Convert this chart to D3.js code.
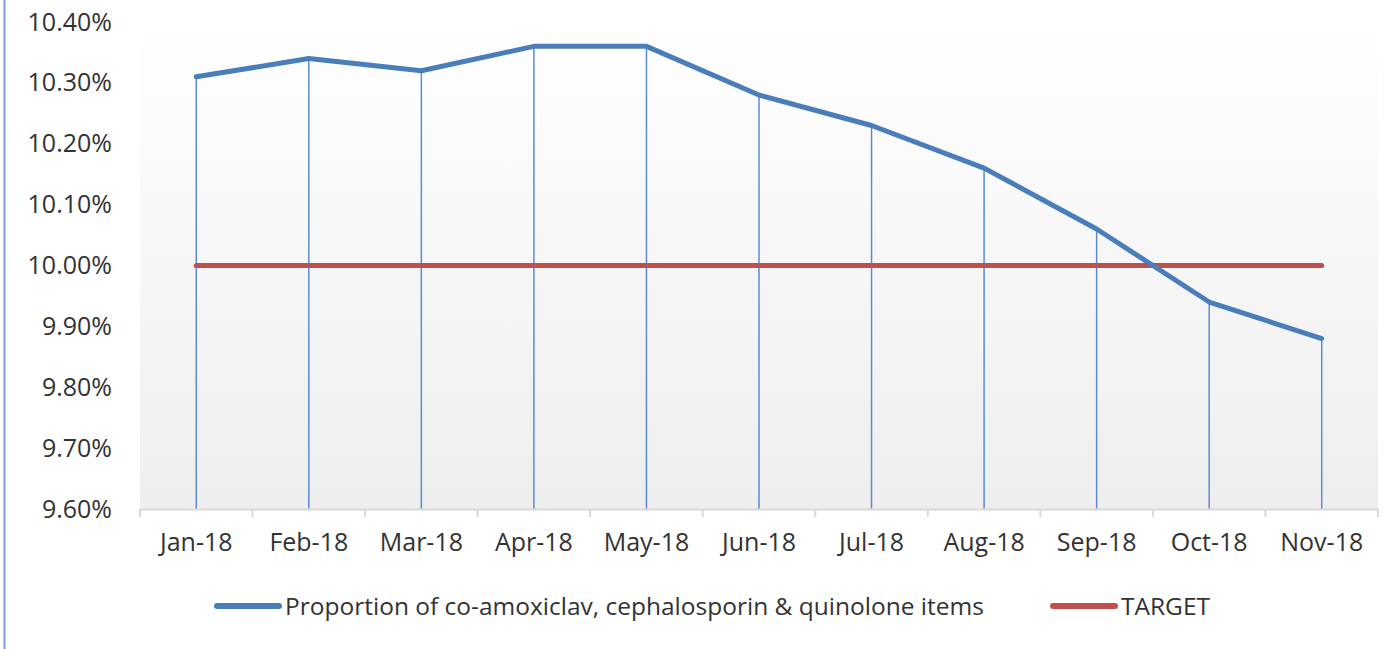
<!DOCTYPE html>
<html>
<head>
<meta charset="utf-8">
<script src="https://cdn.jsdelivr.net/npm/d3@7"></script>
<style>
  body { margin: 0; background: #fff; }
  svg { display: block; font-family: "Open Sans", sans-serif; }
</style>
</head>
<body>
<svg id="chart" width="1386" height="649"></svg>
<script>
// data
var months = ["Jan-18", "Feb-18", "Mar-18", "Apr-18", "May-18", "Jun-18",
  "Jul-18", "Aug-18", "Sep-18", "Oct-18", "Nov-18"];
var proportion = [10.31, 10.34, 10.32, 10.36, 10.36, 10.28, 10.23, 10.16, 10.06, 9.94, 9.88];
var target = [10, 10, 10, 10, 10, 10, 10, 10, 10, 10, 10];
var yTicks = [9.6, 9.7, 9.8, 9.9, 10.0, 10.1, 10.2, 10.3, 10.4];

var svg = d3.select("#chart");
var width = 1386, height = 649;

var margin = { top: 22, right: 8, bottom: 140, left: 140 };
var plotW = width - margin.left - margin.right,
  plotH = height - margin.top - margin.bottom;

var blue = "#4a7ebb", red = "#c0504d";
var font = "'Open Sans', sans-serif";

// left border of the chart frame
svg.append("line")
  .attr("x1", 4.5).attr("x2", 4.5)
  .attr("y1", 0).attr("y2", height)
  .style("stroke", "#7b9cd0")
  .style("stroke-width", 2);

var defs = svg.append("defs");
var grad = defs.append("linearGradient")
  .attr("id", "bg")
  .attr("x1", 0).attr("y1", 0).attr("x2", 0).attr("y2", 1);
grad.append("stop").attr("offset", "0%").attr("stop-color", "#ffffff");
grad.append("stop").attr("offset", "100%").attr("stop-color", "#eeeeee");

var g = svg.append("g").attr("transform", "translate(" + margin.left + "," + margin.top + ")");

var xScale = d3.scaleBand().domain(months).range([0, plotW]);
var yScale = d3.scaleLinear().domain([9.6, 10.4]).range([plotH, 0]);
function cx(d) { return xScale(d) + xScale.bandwidth() / 2; }

g.append("rect")
  .attr("width", plotW).attr("height", plotH)
  .style("fill", "url(#bg)");

// y axis labels
var yAxis = d3.axisLeft(yScale)
  .tickValues(yTicks)
  .tickSize(0)
  .tickPadding(28)
  .tickFormat(function(d) { return d3.format(".2f")(d) + "%"; });
var yG = g.append("g").call(yAxis);
yG.select(".domain").remove();
yG.selectAll("text")
  .style("font-size", "25px")
  .style("fill", "#333")
  .style("font-family", font);

// drop lines from each point
g.selectAll(".drop")
  .data(months)
  .enter().append("line")
  .attr("class", "drop")
  .attr("x1", cx).attr("x2", cx)
  .attr("y1", function(d, i) { return yScale(proportion[i]); })
  .attr("y2", plotH)
  .style("stroke", "#5b8bd0")
  .style("stroke-width", 1.5);

// x axis
var xAxis = d3.axisBottom(xScale).tickSize(0).tickPadding(24);
var xG = g.append("g").attr("transform", "translate(0," + plotH + ")").call(xAxis);
xG.select(".domain")
  .style("stroke", "#d9d9d9")
  .style("stroke-width", 2);
xG.selectAll("text")
  .style("font-size", "25px")
  .style("fill", "#333")
  .style("font-family", font);
// tick marks on category boundaries
var bounds = months.map(function(d) { return xScale(d); }).concat([plotW]);
xG.selectAll(".bound")
  .data(bounds)
  .enter().append("line")
  .attr("class", "bound")
  .attr("x1", function(d) { return d; }).attr("x2", function(d) { return d; })
  .attr("y1", 0).attr("y2", 8)
  .style("stroke", "#d9d9d9")
  .style("stroke-width", 2);

var line = d3.line()
  .x(function(d) { return cx(d.m); })
  .y(function(d) { return yScale(d.v); });

g.append("path")
  .datum(months.map(function(m, i) { return { m: m, v: target[i] }; }))
  .attr("d", line)
  .style("fill", "none")
  .style("stroke", red)
  .style("stroke-width", 5)
  .style("stroke-linecap", "round");

g.append("path")
  .datum(months.map(function(m, i) { return { m: m, v: proportion[i] }; }))
  .attr("d", line)
  .style("fill", "none")
  .style("stroke", blue)
  .style("stroke-width", 5)
  .style("stroke-linecap", "round")
  .style("stroke-linejoin", "round");

// legend
var legend = svg.append("g").attr("transform", "translate(0,606)");
var items = [
  { label: "Proportion of co-amoxiclav, cephalosporin & quinolone items", color: blue, x: 217 },
  { label: "TARGET", color: red, x: 1053 }
];
items.forEach(function(it) {
  legend.append("line")
    .attr("x1", it.x).attr("x2", it.x + 62)
    .attr("y1", 0).attr("y2", 0)
    .style("stroke", it.color)
    .style("stroke-width", 6)
    .style("stroke-linecap", "round");
  legend.append("text")
    .attr("x", it.x + 68)
    .attr("y", 0)
    .attr("dy", "0.35em")
    .style("font-size", "24.5px")
    .style("fill", "#333")
    .style("font-family", font)
    .text(it.label);
});
</script>
</body>
</html>
